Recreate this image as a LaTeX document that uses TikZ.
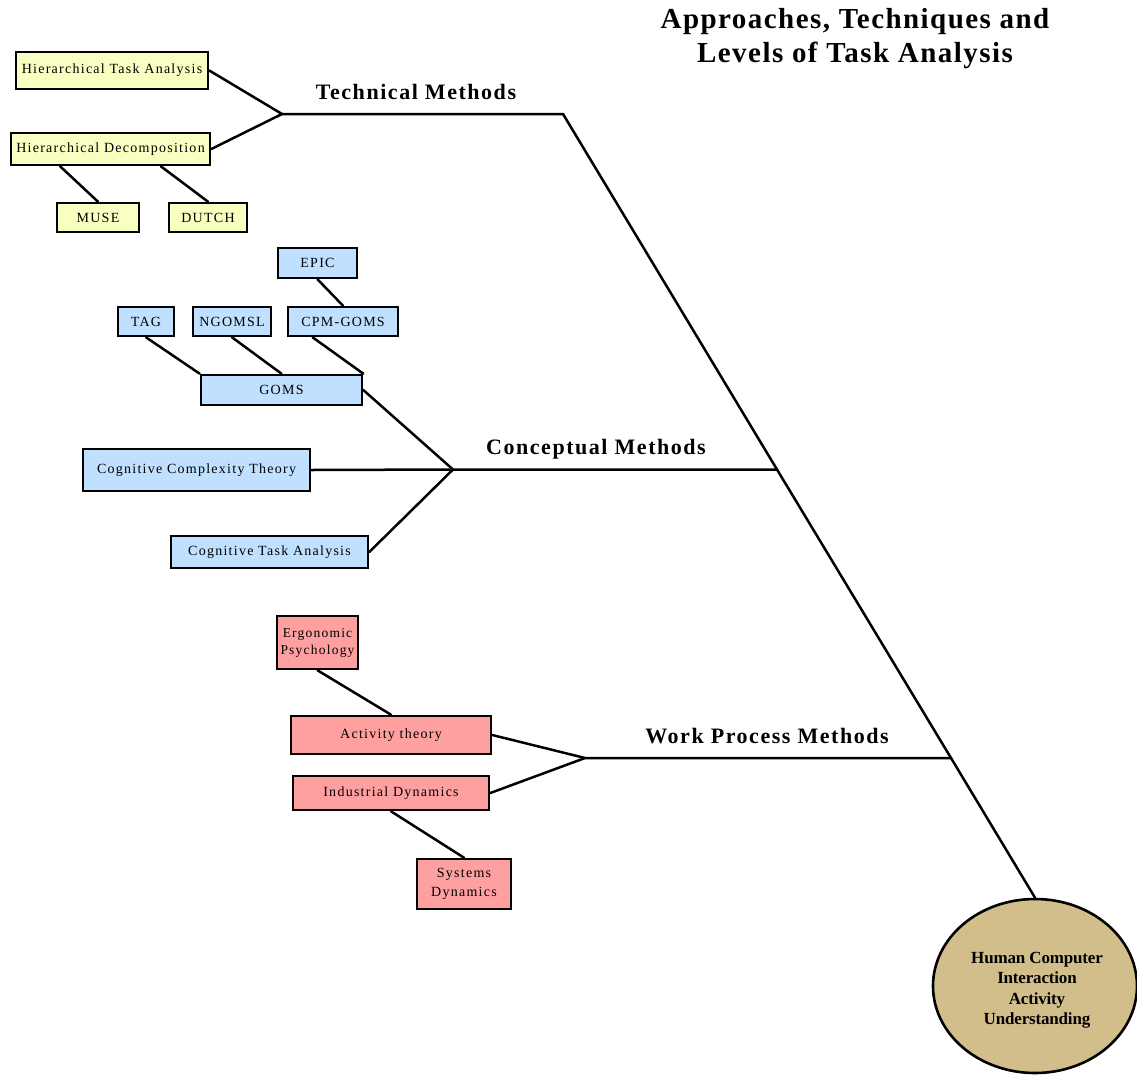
\documentclass[tikz,border=0pt]{standalone}
\usepackage{fontspec}
\setmainfont{Liberation Serif}
\usetikzlibrary{calc,shapes.geometric}
\definecolor{ylw}{HTML}{F8FFC0}
\definecolor{blu}{HTML}{C0E0FF}
\definecolor{rd}{HTML}{FFA0A0}
\definecolor{tan}{HTML}{D2BE8A}
\newfontfamily\boxfont[LetterSpace=9]{Liberation Serif}
\newfontfamily\headfont[LetterSpace=7]{Liberation Serif}
\newfontfamily\titlefont[LetterSpace=5]{Liberation Serif}
\newfontfamily\ellfont[LetterSpace=-1]{Liberation Serif}
\tikzset{
  tbox/.style={draw=black,line width=2.6pt,inner sep=0pt,align=center,
    font=\boxfont\fontsize{14}{17}\selectfont},
  ybox/.style={tbox,fill=ylw},
  bbox/.style={tbox,fill=blu},
  rbox/.style={tbox,fill=rd},
  head/.style={font=\headfont\bfseries\fontsize{22}{26}\selectfont},
  conn/.style={line width=2.5pt,line cap=round,line join=round},
}
\begin{document}
\begin{tikzpicture}[x=1pt,y=-1pt]
\useasboundingbox (0,0) rectangle (1137,1074);
% title
\node[font=\titlefont\bfseries\fontsize{29}{34}\selectfont,align=center] (title) at (855,39) {Approaches, Techniques and\\Levels of Task Analysis};
% technical
\node[ybox,minimum width=192,minimum height=37] (HTA) at (112,70.5) {Hierarchical Task Analysis};
\node[ybox,minimum width=199,minimum height=32] (HD) at (110.5,149) {Hierarchical Decomposition};
\node[ybox,minimum width=82,minimum height=29] (MUSE) at (98,217.5) {MUSE};
\node[ybox,minimum width=78,minimum height=29] (DUTCH) at (208,217.5) {DUTCH};
\coordinate (TJ) at (282,114);
\coordinate (TE) at (563,114);
\node[head] (TM) at (416,92) {Technical Methods};
% conceptual
\node[bbox,minimum width=79,minimum height=30] (EPIC) at (317.5,263) {EPIC};
\node[bbox,minimum width=56,minimum height=29] (TAG) at (146,321.5) {TAG};
\node[bbox,minimum width=78,minimum height=29] (NGOMSL) at (232,321.5) {NGOMSL};
\node[bbox,minimum width=110,minimum height=29] (CPM) at (343,321.5) {CPM-GOMS};
\node[bbox,minimum width=161,minimum height=30] (GOMS) at (281.5,390) {GOMS};
\node[bbox,minimum width=227,minimum height=42] (CCT) at (196.5,470) {Cognitive Complexity Theory};
\node[bbox,minimum width=197,minimum height=32] (CTA) at (269.5,552) {Cognitive Task Analysis};
\coordinate (CJ) at (453,469.5);
\coordinate (CE) at (777,469.5);
\node[head] (CM) at (596,449) {Conceptual Methods};
% work process
\node[rbox,minimum width=81,minimum height=53,font=\boxfont\fontsize{13.5}{17}\selectfont] (EP) at (317.5,642.5) {Ergonomic\\Psychology};
\node[rbox,minimum width=200,minimum height=38] (AT) at (391,735) {Activity theory};
\node[rbox,minimum width=196,minimum height=34] (ID) at (391,793) {Industrial Dynamics};
\node[rbox,minimum width=94,minimum height=50,font=\boxfont\fontsize{14}{19}\selectfont] (SD) at (464,884) {Systems\\Dynamics};
\coordinate (WJ) at (585,758);
\coordinate (WE) at (951,758);
\node[head] (WM) at (767,736) {Work Process Methods};
% target
\node[ellipse,draw=black,line width=2.6pt,fill=tan,minimum width=204,minimum height=174,inner sep=0pt] (HCI) at (1035,986) {};
\node[align=center,inner sep=0pt,font=\ellfont\bfseries\fontsize{17}{20.5}\selectfont] (HCItext) at (1037,990) {Human Computer\\Interaction\\Activity\\Understanding};
% connectors
\draw[conn] (HTA.east) -- (TJ);
\draw[conn] (HD.east) -- (TJ) -- (TE);
\draw[conn] ($(HD.south west)!0.25!(HD.south east)$) -- (MUSE.north);
\draw[conn] ($(HD.south west)!0.75!(HD.south east)$) -- (DUTCH.north);
\draw[conn] (EPIC.south) -- (CPM.north);
\draw[conn] (TAG.south) -- (GOMS.north west);
\draw[conn] (NGOMSL.south) -- (GOMS.north);
\draw[conn] ($(CPM.south west)!0.23!(CPM.south east)$) -- (GOMS.north east);
\draw[conn] (GOMS.east) -- (CJ);
\draw[conn] (CCT.east) -- (CJ) -- (CE);
\draw[conn] (CTA.east) -- (CJ);
\draw[conn] (EP.south) -- (AT.north);
\draw[conn] (AT.east) -- (WJ);
\draw[conn] (ID.east) -- (WJ) -- (WE);
\draw[conn] (ID.south) -- (SD.north);
\draw[conn] (TE) -- (CE) -- (WE) -- (HCI.north);
\end{tikzpicture}
\end{document}
